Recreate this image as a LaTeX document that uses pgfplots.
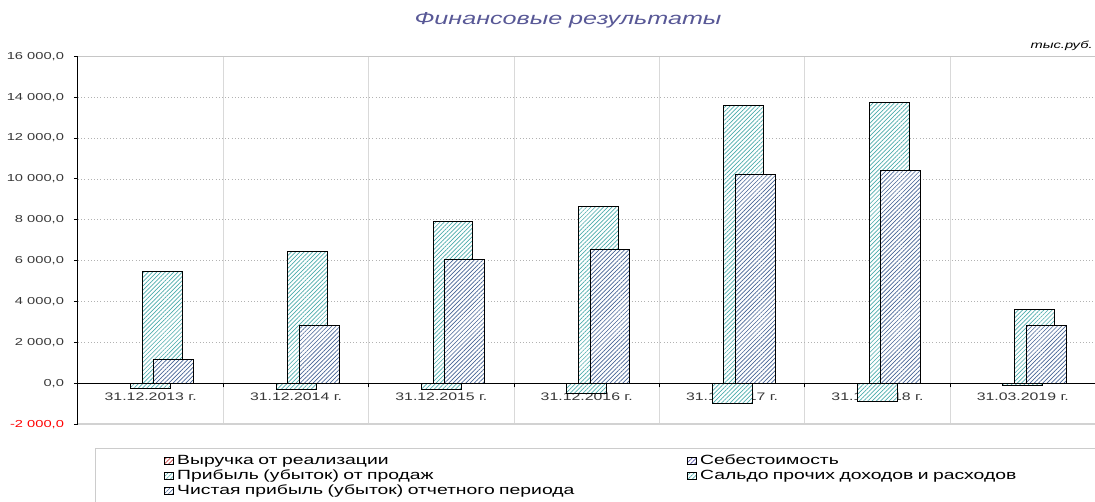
\documentclass[border=0pt]{standalone}
\usepackage{pgfplots}
\pgfplotsset{compat=1.18}
\usepackage{fontspec}
\setmainfont{Liberation Sans}[FakeStretch=1.45]
\usetikzlibrary{patterns.meta}

\definecolor{tealhatch}{RGB}{75,172,172}
\definecolor{bluehatch}{RGB}{70,100,150}
\definecolor{redhatch}{RGB}{200,60,60}
\definecolor{purphatch}{RGB}{80,80,170}
\definecolor{titleblue}{RGB}{88,88,150}
\definecolor{tickgray}{RGB}{55,55,55}

\pgfplotsset{
  hatchbar/.style={ybar, bar width=0.275, draw=black, line width=0.75pt, fill=white,
    postaction={pattern={Lines[angle=45,distance=2.25pt,line width=0.5pt]}, pattern color=#1},
    legend image code/.code={\draw[##1] (0pt,-2.6pt) rectangle (6.75pt,2.6pt);}},
}

\begin{document}
\begin{tikzpicture}
% page = reference frame 1095x501 px, 1px = 0.75pt, plot box lower left at (0,0)
\path[use as bounding box] (-58.5pt,-57.6pt) rectangle (762.75pt,318.15pt);

\begin{axis}[
  scale only axis, width=763.1pt, height=275.9pt,
  xmin=-0.5, xmax=6.5, ymin=-2000, ymax=16000,
  enlargelimits=false,
  scaled y ticks=false,
  axis x line=middle, axis y line=left,
  axis line style={-, black, line width=0.75pt},
  hide obscured x ticks=false, hide obscured y ticks=false,
  xtick={0,...,6},
  xticklabels={31.12.2013 г., 31.12.2014 г., 31.12.2015 г., 31.12.2016 г., 31.12.2017 г., 31.12.2018 г., 31.03.2019 г.},
  minor xtick={0.5,1.5,...,5.5},
  ytick={-2000,0,...,16000},
  yticklabels={{\color{red}-2 000,0},{0,0},{2 000,0},{4 000,0},{6 000,0},{8 000,0},{10 000,0},{12 000,0},{14 000,0},{16 000,0}},
  tick align=outside, major tick length=3pt, minor tick length=3pt,
  major x tick style={draw=none},
  minor x tick style={black, line width=0.75pt},
  y tick style={black, line width=0.75pt},
  xminorgrids, minor x grid style={gray!30, line width=0.75pt},
  ymajorgrids, major y grid style={gray!60, dotted, line width=0.6pt},
  /pgf/number format/assume math mode=true,
  tick label style={font=\fontsize{7.6}{9}\selectfont, text=tickgray},
  xticklabel style={font=\fontsize{8.2}{10}\selectfont, yshift=-0.5pt},
  yticklabel style={xshift=-4pt},
  legend columns=2,
  legend cell align=left,
  legend style={at={(0.0845,-0.0790)}, anchor=north west, draw=none, fill=none,
    inner sep=0pt, font=\fontsize{10}{12}\selectfont, text=black,
    /tikz/every odd column/.style={column sep=2.25pt},
    /tikz/every even column/.style={column sep=0pt},
    nodes={inner xsep=0pt, inner ysep=0pt, text height=8pt, text depth=3.25pt, text width=382.5pt, align=left}},
]
\addlegendimage{hatchbar=redhatch}
\addlegendimage{hatchbar=purphatch}

% Прибыль (убыток) от продаж
\addplot[hatchbar=tealhatch, bar shift=0] coordinates {
  (0,-250) (1,-290) (2,-280) (3,-480) (4,-980) (5,-880) (6,-130)};
% Сальдо прочих доходов и расходов
\addplot[hatchbar=tealhatch, bar shift=0.08] coordinates {
  (0,5460) (1,6440) (2,7940) (3,8670) (4,13570) (5,13760) (6,3630)};
% Чистая прибыль (убыток) отчетного периода
\addplot[hatchbar=bluehatch, bar shift=0.16] coordinates {
  (0,1170) (1,2840) (2,6080) (3,6570) (4,10200) (5,10400) (6,2840)};

\legend{Выручка от реализации, Себестоимость, Прибыль (убыток) от продаж, Сальдо прочих доходов и расходов, Чистая прибыль (убыток) отчетного периода}

\draw[gray!45, line width=0.75pt] (rel axis cs:0,1) -- (rel axis cs:1,1);
\draw[gray!35, line width=1.5pt] (rel axis cs:0,0) -- (rel axis cs:1,0);
\end{axis}

\begin{scope}[x=0.75pt,y=-0.75pt,shift={(-58.5pt,318.15pt)}]
  \node[font=\fontsize{13}{15}\selectfont\itshape, text=titleblue] at (568,20) {Финансовые результаты};
  \node[anchor=east, font=\fontsize{7.6}{9}\selectfont\itshape, inner sep=0pt] at (1093,46) {тыс.руб.};
  \draw[gray!40, line width=0.75pt] (96,560) -- (96,448) -- (1200,448);
\end{scope}
\end{tikzpicture}
\end{document}
